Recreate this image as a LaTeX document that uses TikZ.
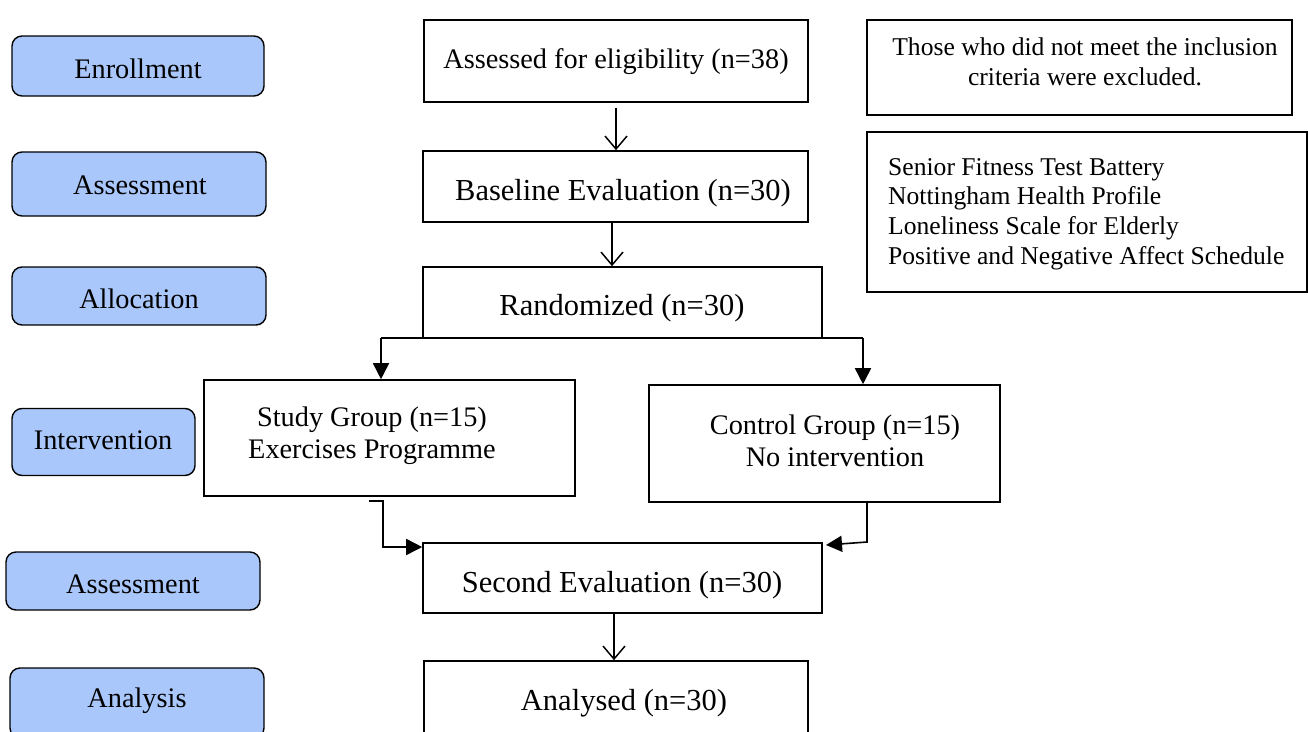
\documentclass[tikz,border=0pt]{standalone}
\usepackage{fontspec}
\setmainfont{Liberation Serif}
\usetikzlibrary{arrows.meta,calc}
\definecolor{sideblue}{RGB}{169,199,250}
\begin{document}
\begin{tikzpicture}[x=1pt,y=-1pt,
  box/.style={draw=black,line width=1.6pt,inner sep=0pt},
  side/.style={draw=black,line width=1.4pt,fill=sideblue,rounded corners=10pt,inner sep=0pt,
    font=\fontsize{28.3}{32}\selectfont},
  big/.style={inner sep=0pt,align=center,yshift=-3pt,font=\fontsize{30.5}{36}\selectfont},
  mid/.style={inner sep=0pt,align=center,yshift=-2pt,font=\fontsize{28.3}{32}\selectfont},
  small/.style={inner sep=0pt,yshift=-2pt,font=\fontsize{25.6}{29.8}\selectfont},
  openarrow/.style={line width=1.5pt,-{Straight Barb[length=13pt,width=22pt,line width=1.5pt]}},
  fillarrow/.style={line width=1.6pt,-{Triangle[length=16pt,width=16pt]}},
  plain/.style={line width=1.6pt}
]
\useasboundingbox (0,0) rectangle (1308,731);

% left phase labels
\node[side,minimum width=252pt,minimum height=60pt] (enr) at (138,66) {};
\node[mid] (enrt) at (138,67) {Enrollment};
\node[side,minimum width=254pt,minimum height=64pt] (as1) at (139,184) {};
\node[mid] (as1t) at (140,183) {Assessment};
\node[side,minimum width=254pt,minimum height=58pt] (alo) at (139,296) {};
\node[mid] (alot) at (139,297) {Allocation};
\node[side,minimum width=183pt,minimum height=67pt] (int) at (103.5,442) {};
\node[mid] (intt) at (103,438) {Intervention};
\node[side,minimum width=254pt,minimum height=58pt] (as2) at (133,581) {};
\node[mid] (as2t) at (133,582) {Assessment};
\node[side,minimum width=254pt,minimum height=70pt] (ana) at (137,703) {};
\node[mid] (anat) at (137,699) {Analysis};

% centre flow
\node[box,minimum width=384pt,minimum height=82pt] (elig) at (616,61) {};
\node[mid] (eligt) at (616,60) {Assessed for eligibility (n=38)};
\node[box,minimum width=385pt,minimum height=71pt] (base) at (615.5,186.5) {};
\node[big] (baset) at (623,190) {Baseline Evaluation (n=30)};
\node[box,minimum width=399pt,minimum height=71pt] (rand) at (622.5,302.5) {};
\node[big] (randt) at (622,305) {Randomized (n=30)};
\node[box,minimum width=371pt,minimum height=116pt] (study) at (389.5,438) {};
\node[mid] (studyt) at (372,434) {Study Group (n=15)\\Exercises Programme};
\node[box,minimum width=351pt,minimum height=117pt] (ctrl) at (824.5,443.5) {};
\node[mid] (ctrlt) at (835,438.5) {Control Group (n=15)\\No intervention};
\node[box,minimum width=399pt,minimum height=70pt] (second) at (622.5,578) {};
\node[big] (secondt) at (622,582) {Second Evaluation (n=30)};
\node[box,minimum width=384pt,minimum height=74pt] (anl) at (616,698) {};
\node[big] (anlt) at (624,700) {Analysed (n=30)};

% right notes
\node[box,minimum width=425pt,minimum height=95pt] (excl) at (1079.5,67.5) {};
\node[small,align=center] (exclt) at (1085,60) {Those who did not meet the inclusion\\criteria were excluded.};
\node[box,minimum width=440pt,minimum height=160pt] (tests) at (1087,212) {};
\node[small,align=left,anchor=west] (testst) at (888,212) {Senior Fitness Test Battery\\Nottingham Health Profile\\Loneliness Scale for Elderly\\Positive and Negative Affect Schedule};

% connectors
\coordinate (e1) at ($(elig.south)+(0,5)$);
\draw[openarrow] (e1) -- (elig.south |- base.north);
\coordinate (b1) at ($(base.south)+(-3.5,0)$);
\draw[openarrow] (b1) -- (b1 |- rand.north);
\coordinate (s1) at ($(second.south)+(-8.5,0)$);
\draw[openarrow] (s1) -- (s1 |- anl.north);

\coordinate (sl) at (381,338);
\coordinate (sr) at (863,338);
\draw[plain] (sl) -- (sr);
\draw[fillarrow] (sl) -- (sl |- study.north);
\draw[fillarrow] (sr) -- (sr |- ctrl.north);

\coordinate (st0) at (369,501);
\coordinate (st1) at (383,501);
\coordinate (st2) at (383,547);
\draw[fillarrow] (st0) -- (st1) -- (st2) -- (second.west |- st2);

\coordinate (ct0) at (867,502);
\coordinate (ct1) at (867,542);
\coordinate (ct2) at (826,545);
\draw[fillarrow] (ct0) -- (ct1) -- (ct2);
\end{tikzpicture}
\end{document}
